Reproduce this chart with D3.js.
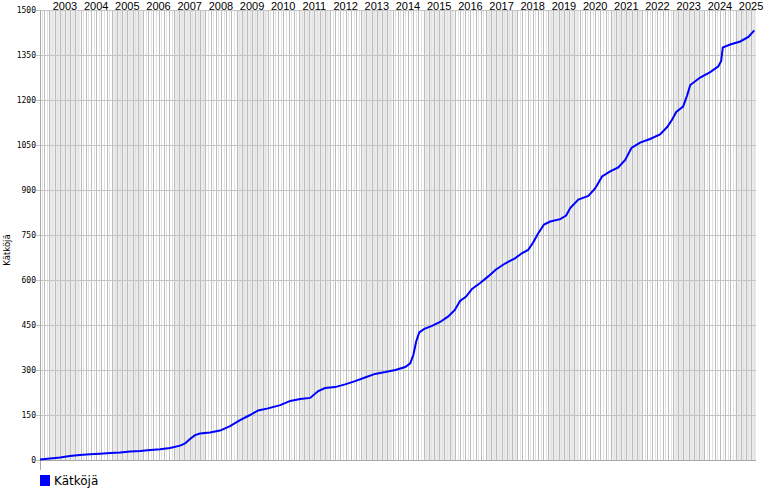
<!DOCTYPE html>
<html><head><meta charset="utf-8">
<script src="https://cdn.jsdelivr.net/npm/d3@7"></script>
<style>body{margin:0;background:#fff}</style>
</head><body><svg id="c" width="770" height="500"></svg>
<script>
const dates = ["2002-09-12","2003-01-08","2003-05-04","2003-08-28","2003-12-24","2004-04-19","2004-08-15","2004-12-13","2005-04-08","2005-08-04","2005-11-29","2006-03-26","2006-07-20","2006-11-14","2007-03-11","2007-05-08","2007-07-05","2007-09-02","2007-10-30","2008-02-24","2008-06-21","2008-10-16","2009-02-10","2009-06-07","2009-09-10","2010-01-04","2010-05-27","2010-09-21","2011-01-15","2011-05-12","2011-08-15","2011-11-03","2012-02-28","2012-06-24","2012-10-19","2013-02-13","2013-06-10","2013-10-08","2014-02-03","2014-05-30","2014-07-27","2014-09-02","2014-10-05","2014-11-10","2015-01-08","2015-04-08","2015-07-12","2015-10-12","2016-01-01","2016-03-01","2016-05-12","2016-07-20","2016-10-23","2017-01-26","2017-04-27","2017-08-11","2017-12-05","2018-02-28","2018-05-08","2018-07-06","2018-09-02","2018-11-10","2019-01-22","2019-05-19","2019-07-27","2019-09-13","2019-12-17","2020-04-12","2020-07-01","2020-09-20","2020-12-24","2021-03-29","2021-06-18","2021-08-30","2021-12-09","2022-04-05","2022-07-31","2022-10-23","2022-12-20","2023-02-06","2023-04-27","2023-06-13","2023-07-20","2023-11-13","2024-03-10","2024-06-13","2024-07-16","2024-08-04","2024-10-30","2025-02-24","2025-05-31","2025-08-08"];
const values = [2,5,8,13,17,19,21,23,25,28,30,33,36,40,48,55,70,83,88,92,98,113,133,150,165,172,183,197,203,207,230,240,243,252,263,275,287,293,300,310,322,350,395,425,437,447,460,478,500,530,545,570,590,612,635,655,672,690,700,725,755,785,795,803,815,840,868,880,905,945,962,975,1000,1040,1058,1070,1085,1110,1135,1160,1178,1215,1250,1275,1293,1312,1330,1375,1385,1395,1410,1432];
const yTicks = [0,150,300,450,600,750,900,1050,1200,1350,1500];
const years = d3.range(2002, 2026);
const seriesName = "Kätköjä";
const domainStart = "2002-09-12", domainEnd = "2025-08-28";

const parse = d3.timeParse("%Y-%m-%d");
const data = dates.map((d,i)=>({d:parse(d), v:values[i]}));
const L=40, R=756, T=10, B=460;
const svg = d3.select("#c");
const x = d3.scaleTime().domain([parse(domainStart), parse(domainEnd)]).range([L,R]);
const y = d3.scaleLinear().domain([0,1500]).range([B,T]);

svg.append("clipPath").attr("id","pc").append("rect").attr("x",L).attr("y",T).attr("width",R-L).attr("height",B-T);
const g = svg.append("g").attr("clip-path","url(#pc)");
years.forEach(yr=>{
  const x0 = x(new Date(yr,0,1)), x1 = x(new Date(yr+1,0,1));
  g.append("rect").attr("x",x0).attr("y",T).attr("width",x1-x0).attr("height",B-T)
   .attr("fill", yr%2 ? "#ececec" : "#ffffff");
});
// month lines: darker every second month, faint otherwise
const months = d3.timeMonth.range(parse(domainStart), parse(domainEnd));
g.selectAll("line.m").data(months).join("line")
  .attr("x1",d=>Math.round(x(d))+0.5).attr("x2",d=>Math.round(x(d))+0.5)
  .attr("y1",T).attr("y2",B)
  .attr("stroke",d=> d.getMonth()%2===0 ? "#bcbcbc" : "#e2e2e2").attr("stroke-width",1);
// horizontal grid
svg.selectAll("line.h").data(yTicks).join("line")
  .attr("x1",L-4).attr("x2",R).attr("y1",d=>Math.round(y(d))+0.5).attr("y2",d=>Math.round(y(d))+0.5)
  .attr("stroke","#c4c4c4");
svg.append("line").attr("x1",L+0.5).attr("x2",L+0.5).attr("y1",T).attr("y2",B+10).attr("stroke","#a8a8a8");
svg.append("line").attr("x1",L).attr("x2",R).attr("y1",B+0.5).attr("y2",B+0.5).attr("stroke","#a8a8a8");

svg.selectAll("text.yl").data(yTicks).join("text")
  .attr("x",L-4).attr("y",d=>y(d)+3).attr("text-anchor","end")
  .attr("font-family","DejaVu Sans Mono, monospace").attr("font-size",8).attr("fill","#000")
  .text(d=>d);
svg.selectAll("text.xl").data(years.filter(yr=>yr>=2003)).join("text")
  .attr("x",yr=>x(new Date(yr,6,1))).attr("y",10).attr("text-anchor","middle")
  .attr("font-family","Liberation Sans, Arial, sans-serif").attr("font-size",11).attr("fill","#000")
  .text(d=>d);
svg.append("text").attr("transform","translate(10,250) rotate(-90)").attr("text-anchor","middle")
  .attr("font-family","DejaVu Sans, sans-serif").attr("font-size",8.5).text(seriesName);

svg.append("path").datum(data)
  .attr("d", d3.line().x(d=>x(d.d)).y(d=>y(d.v)))
  .attr("fill","none").attr("stroke","#0000ff").attr("stroke-width",2);

svg.append("rect").attr("x",L).attr("y",475).attr("width",10).attr("height",11).attr("fill","#0000ff");
svg.append("text").attr("x",L+14).attr("y",485).attr("font-family","DejaVu Sans, sans-serif").attr("font-size",12).text(seriesName);
</script></body></html>
